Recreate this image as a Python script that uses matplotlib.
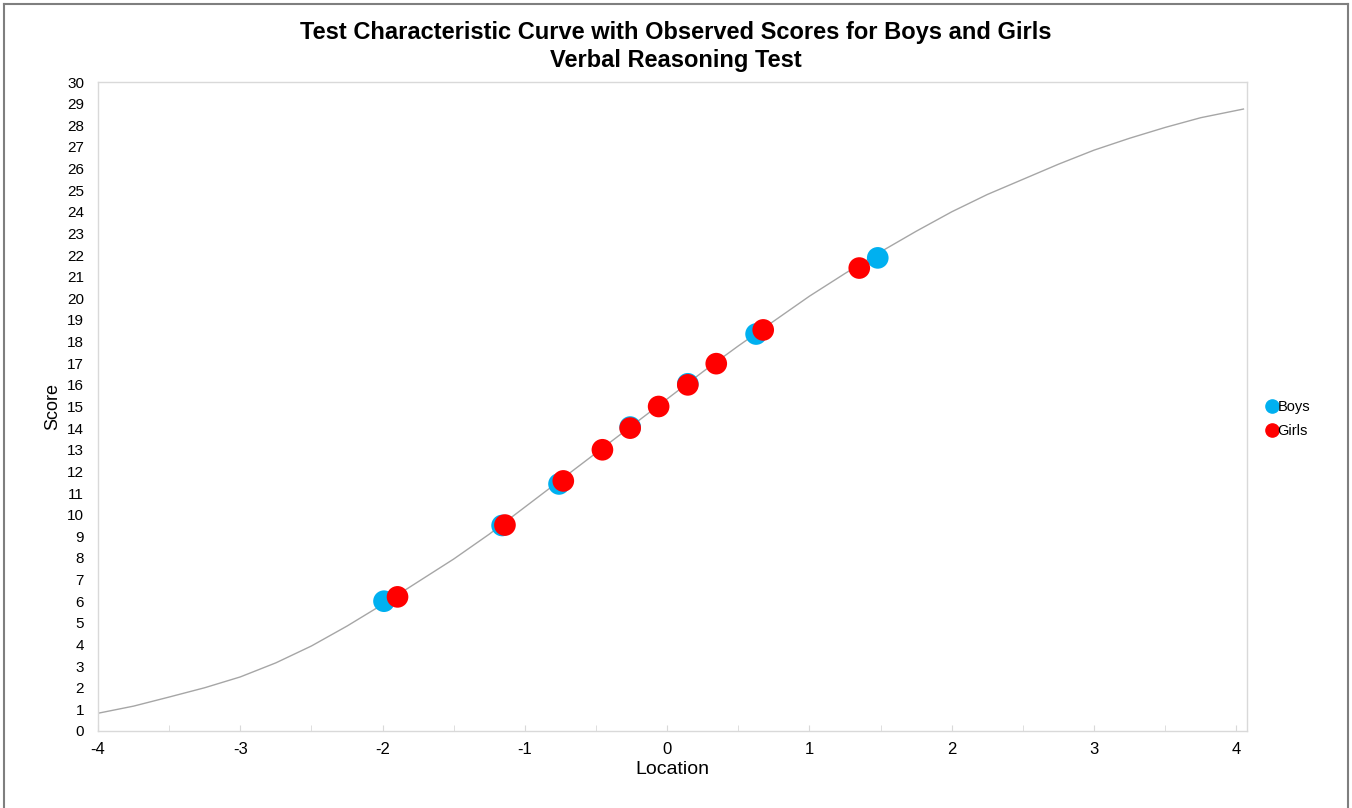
import numpy as np
import matplotlib.pyplot as plt
from matplotlib.lines import Line2D
from matplotlib.ticker import MultipleLocator

# test characteristic curve
curve_x = [-4, -3.75, -3.5, -3.25, -3, -2.75, -2.5, -2.25, -2, -1.75, -1.5, -1.25,
           -1, -0.75, -0.5, -0.25, 0, 0.25, 0.5, 0.75, 1, 1.25, 1.5, 1.75,
           2, 2.25, 2.5, 2.75, 3, 3.25, 3.5, 3.75, 4.05]
curve_y = [0.82, 1.15, 1.57, 2.0, 2.5, 3.15, 3.93, 4.85, 5.85, 6.9, 7.95, 9.1,
           10.35, 11.6, 12.85, 14.1, 15.35, 16.6, 17.8, 18.95, 20.1, 21.15, 22.15, 23.1,
           24.0, 24.8, 25.5, 26.2, 26.85, 27.4, 27.9, 28.35, 28.75]

# observed scores
boys_x = [-1.99, -1.16, -0.76, -0.26, 0.145, 0.625, 1.48]
boys_y = [6.0, 9.5, 11.42, 14.05, 16.05, 18.35, 21.87]
girls_x = [-1.895, -1.14, -0.73, -0.455, -0.26, -0.06, 0.145, 0.345, 0.675, 1.35]
girls_y = [6.2, 9.52, 11.56, 13.0, 14.0, 15.0, 16.0, 16.98, 18.54, 21.4]

plt.rcParams['font.family'] = ['Liberation Sans', 'DejaVu Sans']
plt.rcParams['axes.unicode_minus'] = False

fig = plt.figure(figsize=(13.52, 8.08), dpi=100)
ax = fig.add_axes([98/1352, 1-731/808, (1247-98)/1352, (731-82)/808])

ax.plot(curve_x, curve_y, color='#a6a6a6', lw=1.0, zorder=2)
ax.scatter(boys_x, boys_y, s=243, color='#00b0f0', edgecolors='none', zorder=3)
ax.scatter(girls_x, girls_y, s=243, color='#ff0000', edgecolors='none', zorder=4)

ax.set_xlim(-4, 4.075)
ax.set_ylim(0, 30)
ax.set_xticks(range(-4, 5))
ax.xaxis.set_minor_locator(MultipleLocator(0.5))
ax.set_yticks(range(0, 31))
ax.tick_params(axis='x', which='both', direction='in', length=4, color='#d9d9d9',
               labelsize=12, pad=8)
ax.tick_params(axis='y', length=0, labelsize=11, pad=10)
for s in ax.spines.values():
    s.set_color('#d9d9d9')
    s.set_linewidth(1.0)

ax.set_xlabel('Location', fontsize=14, labelpad=3)
ax.set_ylabel('Score', fontsize=13, labelpad=4)

fig.text(0.5, 1-33/808, 'Test Characteristic Curve with Observed Scores for Boys and Girls',
         ha='center', va='center', fontsize=17, fontweight='bold')
fig.text(0.5, 1-60/808, 'Verbal Reasoning Test',
         ha='center', va='center', fontsize=17, fontweight='bold')

handles = [Line2D([], [], ls='', marker='o', ms=9.5, color='#00b0f0', label='Boys'),
           Line2D([], [], ls='', marker='o', ms=9.5, color='#ff0000', label='Girls')]
fig.legend(handles=handles, loc='center left', bbox_to_anchor=(1260/1352, 1-419/808),
           frameon=False, fontsize=10.5, handlelength=0.6, handletextpad=0.1,
           labelspacing=0.65, borderpad=0)

# outer frame of the picture
for xs, ys in [([4/1352, 4/1352], [0, 1-4/808]),
               ([4/1352, 1348/1352], [1-4/808, 1-4/808]),
               ([1348/1352, 1348/1352], [0, 1-4/808])]:
    fig.add_artist(Line2D(xs, ys, color='#7f7f7f', lw=1.5))

fig.savefig('out.png', dpi=100)
